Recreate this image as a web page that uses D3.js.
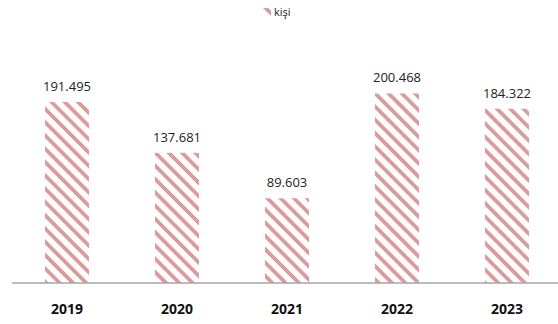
<!DOCTYPE html>
<html>
<head>
<meta charset="utf-8">
<script src="https://cdn.jsdelivr.net/npm/d3@7"></script>
<style>
  body { margin: 0; background: #fff; }
  text { font-family: "Open Sans", "Liberation Sans", sans-serif; }
</style>
</head>
<body>
<svg id="chart"></svg>
<script>
// data
var years = ['2019', '2020', '2021', '2022', '2023'];
var values = [191.495, 137.681, 89.603, 200.468, 184.322];
var labels = ['191.495', '137.681', '89.603', '200.468', '184.322'];
var seriesName = 'kişi';

var width = 558, height = 324;
var stripe = '#dd9a9a';

var svg = d3.select('#chart').attr('width', width).attr('height', height);

// striped fill
var defs = svg.append('defs');
var pat = defs.append('pattern')
  .attr('id', 'stripes')
  .attr('patternUnits', 'userSpaceOnUse')
  .attr('width', 9.4).attr('height', 9.4)
  .attr('patternTransform', 'rotate(-45)');
pat.append('rect')
  .attr('x', 0).attr('y', 0)
  .attr('width', 3.8).attr('height', 9.4)
  .attr('fill', stripe);

var margin = {top: 75, right: 0, bottom: 41, left: 12};

var x = d3.scaleBand()
  .domain(years)
  .range([margin.left, margin.left + 110 * 5])
  .paddingInner(0.6).paddingOuter(0.3);

var y = d3.scaleLinear()
  .domain([0, 220])
  .range([height - margin.bottom, margin.top]);

// bars
svg.selectAll('rect.bar')
  .data(values)
  .enter().append('rect')
  .attr('class', 'bar')
  .attr('x', function(d, i) { return x(years[i]); })
  .attr('y', function(d) { return y(d); })
  .attr('width', x.bandwidth())
  .attr('height', function(d) { return y(0) - y(d); })
  .attr('fill', 'url(#stripes)');

// value labels
svg.selectAll('text.val')
  .data(values)
  .enter().append('text')
  .attr('class', 'val')
  .attr('x', function(d, i) { return x(years[i]) + x.bandwidth() / 2; })
  .attr('y', function(d) { return y(d) - 11; })
  .attr('text-anchor', 'middle')
  .attr('font-size', 13)
  .attr('fill', '#222')
  .text(function(d, i) { return labels[i]; });

// x axis
var xAxis = svg.append('g')
  .attr('transform', 'translate(0,' + y(0) + ')')
  .call(d3.axisBottom(x).tickSize(0).tickPadding(21));
xAxis.select('.domain').attr('stroke', '#a6a6a6').attr('stroke-width', 1.5)
  .attr('d', 'M' + margin.left + ',0H' + width);
xAxis.selectAll('text')
  .attr('font-size', 14)
  .attr('font-weight', 'bold')
  .attr('fill', '#111')
  .style('font-family', '"Open Sans", "Liberation Sans", sans-serif');

// legend
var legend = svg.append('g').attr('transform', 'translate(263,8)');
legend.append('rect')
  .attr('width', 8).attr('height', 8)
  .attr('fill', 'url(#stripes)');
legend.append('text')
  .attr('x', 11).attr('y', 8)
  .attr('font-size', 11)
  .attr('fill', '#222')
  .text(seriesName);
</script>
</body>
</html>
